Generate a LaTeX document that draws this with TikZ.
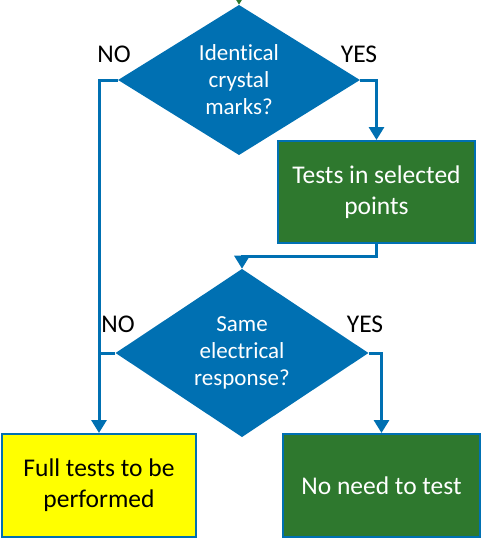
\documentclass[tikz,border=0pt]{standalone}
\usepackage{fontspec}
\setmainfont[Ligatures=NoCommon]{Carlito}
\usepackage{xcolor}
\usetikzlibrary{shapes.geometric,arrows.meta,calc}

\definecolor{flowblue}{RGB}{0,112,178}
\definecolor{okgreen}{RGB}{46,120,46}
\definecolor{warnyellow}{RGB}{255,255,0}

\begin{document}
\begin{tikzpicture}[x=1pt, y=-1pt,
    decision/.style={diamond, fill=flowblue, inner sep=0pt, text=white,
        align=center, font=\fontsize{23}{27}\selectfont},
    stepbox/.style={rectangle, draw=flowblue, line width=2pt, inner sep=0pt,
        minimum width=197pt, minimum height=102pt, align=center,
        font=\fontsize{25.5}{31}\selectfont},
    answer/.style={font=\fontsize{25.5}{30}\selectfont, text=black},
    flow/.style={draw=flowblue, line width=3pt,
        -{Triangle[width=15pt,length=13pt]}}]

\useasboundingbox (0,0) rectangle (481,538);

% Primera decision
\node[decision, minimum width=242pt, minimum height=146pt] (marks) at (239,80)
    {Identical\\crystal\\marks?};
\coordinate (entry) at (239,-12);
\draw[line width=3pt, -{Triangle[width=15pt,length=13pt]}, color=okgreen]
    (entry) -- (marks.north);

% Pruebas en puntos seleccionados
\node[stepbox, fill=okgreen, text=white] (tests) at (376.5,192)
    {Tests in selected\\points};

% Segunda decision
\node[decision, minimum width=253pt, minimum height=150pt] (resp) at (242,353)
    {Same\\electrical\\response?};

% Resultados
\node[stepbox, fill=warnyellow, text=black, minimum width=194pt, minimum height=103pt]
    (full) at (99,485.5) {Full tests to be\\performed};
\node[stepbox, fill=okgreen, text=white, minimum height=103pt]
    (skip) at (381.5,485.5) {No need to test};

% Etiquetas NO / YES
\node[answer] (no1) at (114,54) {NO};
\node[answer] (yes1) at (359,54) {YES};
\node[answer] (no2) at (118,324) {NO};
\node[answer] (yes2) at (365,324) {YES};

% Conectores
\draw[flow] (marks.west) -| (full.north);
\draw[flow] (marks.east) -| (tests.north);
\draw[flow] (tests.south) |- ($(tests.south)!.5!(resp.north)$) -| (resp.north);
\coordinate (join) at (full.north |- resp.west);
\draw[draw=flowblue, line width=3pt] (resp.west) -- (join);
\draw[flow] (resp.east) -| (skip.north);

\end{tikzpicture}
\end{document}
